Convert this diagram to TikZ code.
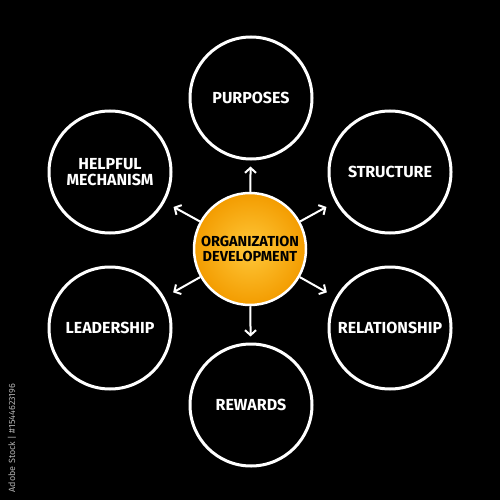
\documentclass[tikz,border=0pt]{standalone}
\usepackage{fontspec}
\setmainfont{Fira Sans}
\usetikzlibrary{arrows.meta}
\definecolor{hubin}{HTML}{FFC83A}
\definecolor{hubout}{HTML}{F39C00}
\begin{document}
\begin{tikzpicture}[x=1pt,y=-1pt,
  outer/.style={circle,draw=white,line width=3pt,minimum size=122pt,inner sep=0pt,
    text=white,align=center,font=\fontsize{16}{15.5}\selectfont\bfseries},
  hub/.style={circle,draw=white,line width=2.5pt,minimum size=112pt,inner sep=0pt,
    inner color=hubin,outer color=hubout,
    text=black,align=center,font=\fontsize{14.5}{15.5}\selectfont\bfseries},
  link/.style={draw=white,line width=2pt,-{Straight Barb[length=5pt,width=11pt,line width=2pt]}},
  side/.style={text=white!70!black,font=\fontsize{9}{9}\selectfont,rotate=90}]
\fill[black] (0,0) rectangle (500,500);
\useasboundingbox (0,0) rectangle (500,500);
\node[hub] (c) at (250,249) {ORGANIZATION\\DEVELOPMENT};
\node[outer] (p) at (251,98) {PURPOSES};
\node[outer] (s) at (390,172) {STRUCTURE};
\node[outer] (r) at (390,328) {RELATIONSHIP};
\node[outer] (w) at (251,405) {REWARDS};
\node[outer] (l) at (110,328) {LEADERSHIP};
\node[outer] (h) at (110,172) {HELPFUL\\MECHANISM};
\draw[link,shorten >=6pt] (c) -- (p);
\draw[link,shorten >=6pt] (c) -- (w);
\draw[link,shorten >=10pt] (c) -- (s);
\draw[link,shorten >=10pt] (c) -- (r);
\draw[link,shorten >=10pt] (c) -- (l);
\draw[link,shorten >=10pt] (c) -- (h);
\node[side] (t) at (12,438) {Adobe Stock | \#1544623196};
\end{tikzpicture}
\end{document}
